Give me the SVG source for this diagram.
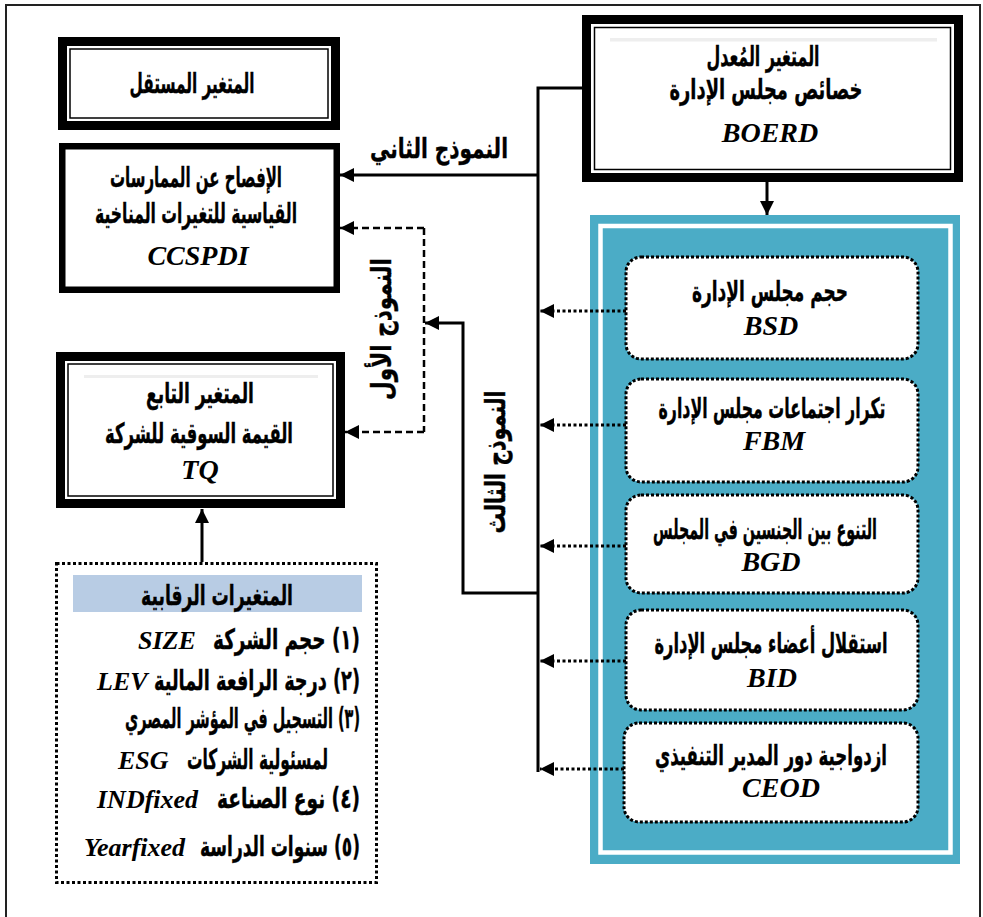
<svg xmlns="http://www.w3.org/2000/svg" width="983" height="917" viewBox="0 0 983 917">
<defs>
<style>
.ar{font-family:'DejaVu Sans',sans-serif;font-weight:bold;font-size:28px;fill:#000;stroke:#000;stroke-width:0.4;text-anchor:middle;}
.lt{font-family:'Liberation Serif','Times New Roman',serif;font-weight:bold;font-style:italic;font-size:28px;fill:#000;text-anchor:middle;}
.lts{font-family:'Liberation Serif','Times New Roman',serif;font-weight:bold;font-style:italic;font-size:26px;fill:#000;}
.thick{fill:#fff;stroke:#000;stroke-width:9;}
.thin{fill:none;stroke:#000;stroke-width:1.5;}
.grey{fill:#eeeeee;}
.solid{fill:none;stroke:#000;stroke-width:3;}
.dash{fill:none;stroke:#000;stroke-width:2.5;stroke-dasharray:7 4;}
.dot{fill:none;stroke:#000;stroke-width:3;stroke-dasharray:3 2.5;}
.pbox{fill:#fff;stroke:#000;stroke-width:3;stroke-dasharray:3 2;}
</style>
<marker id="ah" viewBox="0 0 14 14" refX="14" refY="7" markerWidth="14" markerHeight="14" orient="auto" markerUnits="userSpaceOnUse">
<path d="M0,0 L14,7 L0,14 z" fill="#000"/>
</marker>
</defs>
<rect x="0" y="0" width="983" height="917" fill="#fff"/>
<path d="M6,917 V5 H980 V917" fill="none" stroke="#222" stroke-width="2"/>

<g id="independent-title">
<rect class="thick" x="62.5" y="41.5" width="273" height="84"/>
<rect class="thin" x="70" y="49" width="258" height="69"/>
<text class="ar" x="192" y="93" textLength="125" lengthAdjust="spacingAndGlyphs">المتغير المستقل</text>
</g>

<g id="ccspdi">
<rect x="62.25" y="146.25" width="274.5" height="143.5" fill="#fff" stroke="#000" stroke-width="6.5"/>
<text class="ar" x="196" y="187" textLength="172" lengthAdjust="spacingAndGlyphs">الإفصاح عن الممارسات</text>
<text class="ar" x="196" y="223" textLength="202" lengthAdjust="spacingAndGlyphs">القياسية للتغيرات المناخية</text>
<text class="lt" x="198" y="265">CCSPDI</text>
</g>

<g id="tq">
<rect class="thick" x="60.5" y="356.5" width="280" height="147"/>
<rect class="thin" x="68" y="364" width="265" height="132"/>
<rect class="grey" x="84" y="375" width="234" height="3"/>
<text class="ar" x="200" y="403" textLength="108" lengthAdjust="spacingAndGlyphs">المتغير التابع</text>
<text class="ar" x="199" y="443" textLength="188" lengthAdjust="spacingAndGlyphs">القيمة السوقية للشركة</text>
<text class="lt" x="200" y="479">TQ</text>
</g>

<g id="boerd">
<rect class="thick" x="586.5" y="19.5" width="372" height="158"/>
<rect class="thin" x="594.5" y="27.5" width="356" height="142"/>
<rect class="grey" x="610" y="38" width="327" height="3.5"/>
<text class="ar" x="763" y="66" textLength="113" lengthAdjust="spacingAndGlyphs">المتغير المُعدل</text>
<text class="ar" x="766" y="99" textLength="193" lengthAdjust="spacingAndGlyphs">خصائص مجلس الإدارة</text>
<text class="lt" x="770" y="142">BOERD</text>
</g>

<g id="panel">
<rect x="590" y="215" width="370" height="649" fill="#4bacc6"/>
<rect x="600.5" y="226" width="350" height="626.5" fill="none" stroke="#fff" stroke-width="4.5"/>
</g>

<g id="bsd">
<rect class="pbox" x="626" y="257" width="292" height="102" rx="15"/>
<text class="ar" x="770" y="301" textLength="156" lengthAdjust="spacingAndGlyphs">حجم مجلس الإدارة</text>
<text class="lt" x="771" y="335">BSD</text>
</g>
<g id="fbm">
<rect class="pbox" x="626" y="379" width="292" height="103" rx="15"/>
<text class="ar" x="772" y="418" textLength="227" lengthAdjust="spacingAndGlyphs">تكرار اجتماعات مجلس الإدارة</text>
<text class="lt" x="774" y="450">FBM</text>
</g>
<g id="bgd">
<rect class="pbox" x="626" y="495" width="292" height="98" rx="15"/>
<text class="ar" x="765" y="539" textLength="224" lengthAdjust="spacingAndGlyphs">التنوع بين الجنسين في المجلس</text>
<text class="lt" x="771" y="571">BGD</text>
</g>
<g id="bid">
<rect class="pbox" x="626" y="610" width="292" height="100" rx="15"/>
<text class="ar" x="771" y="653" textLength="233" lengthAdjust="spacingAndGlyphs">استقلال أعضاء مجلس الإدارة</text>
<text class="lt" x="772" y="687">BID</text>
</g>
<g id="ceod">
<rect class="pbox" x="624" y="723" width="294" height="99" rx="15"/>
<text class="ar" x="771" y="765" textLength="232" lengthAdjust="spacingAndGlyphs">ازدواجية دور المدير التنفيذي</text>
<text class="lt" x="781" y="797">CEOD</text>
</g>

<g id="controls">
<rect x="56.5" y="563.5" width="320" height="319" fill="none" stroke="#000" stroke-width="3" stroke-dasharray="3 2.5"/>
<rect x="73" y="575" width="289" height="37" fill="#b8cce4"/>
<text class="ar" x="217" y="605" textLength="152" lengthAdjust="spacingAndGlyphs">المتغيرات الرقابية</text>
<text class="ar" direction="rtl" x="286.5" y="649" textLength="147" lengthAdjust="spacingAndGlyphs">(١) حجم الشركة</text>
<text class="lts" x="138" y="649">SIZE</text>
<text class="ar" direction="rtl" x="257" y="690" textLength="206" lengthAdjust="spacingAndGlyphs">(٢) درجة الرافعة المالية</text>
<text class="lts" x="97" y="690">LEV</text>
<text class="ar" direction="rtl" x="242.5" y="728" textLength="235" lengthAdjust="spacingAndGlyphs">(٣)  التسجيل في المؤشر المصري</text>
<text class="ar" direction="rtl" x="257.5" y="769" textLength="141" lengthAdjust="spacingAndGlyphs">لمسئولية الشركات</text>
<text class="lts" x="118" y="769">ESG</text>
<text class="ar" direction="rtl" x="288.5" y="808" textLength="143" lengthAdjust="spacingAndGlyphs">(٤) نوع الصناعة</text>
<text class="lts" x="97" y="808">INDfixed</text>
<text class="ar" direction="rtl" x="280" y="856" textLength="160" lengthAdjust="spacingAndGlyphs">(٥) سنوات الدراسة</text>
<text class="lts" x="84" y="856">Yearfixed</text>
</g>

<g id="connectors">
<path class="solid" d="M582,88 H538 V772"/>
<path class="solid" d="M538,175 H340" marker-end="url(#ah)"/>
<path class="solid" d="M767,182 V215" marker-end="url(#ah)"/>
<path class="solid" d="M538,593 H463 V323 H425" marker-end="url(#ah)"/>
<path class="dash" d="M424,228 V432"/>
<path class="dash" d="M424,228 H340" marker-end="url(#ah)"/>
<path class="dash" d="M424,432 H345" marker-end="url(#ah)"/>
<path class="solid" d="M202,562 V509" marker-end="url(#ah)"/>
<path class="dot" d="M626,311 H540" marker-end="url(#ah)"/>
<path class="dot" d="M626,425 H540" marker-end="url(#ah)"/>
<path class="dot" d="M626,546 H540" marker-end="url(#ah)"/>
<path class="dot" d="M626,661 H540" marker-end="url(#ah)"/>
<path class="dot" d="M624,769 H540" marker-end="url(#ah)"/>
</g>

<g id="labels">
<text class="ar" x="439" y="158" textLength="138" lengthAdjust="spacingAndGlyphs">النموذج الثاني</text>
<text class="ar" transform="translate(391,329) rotate(-90)" x="0" y="0" textLength="142" lengthAdjust="spacingAndGlyphs">النموذج الأول</text>
<text class="ar" transform="translate(505,462) rotate(-90)" x="0" y="0" textLength="143" lengthAdjust="spacingAndGlyphs">النموذج الثالث</text>
</g>
</svg>
